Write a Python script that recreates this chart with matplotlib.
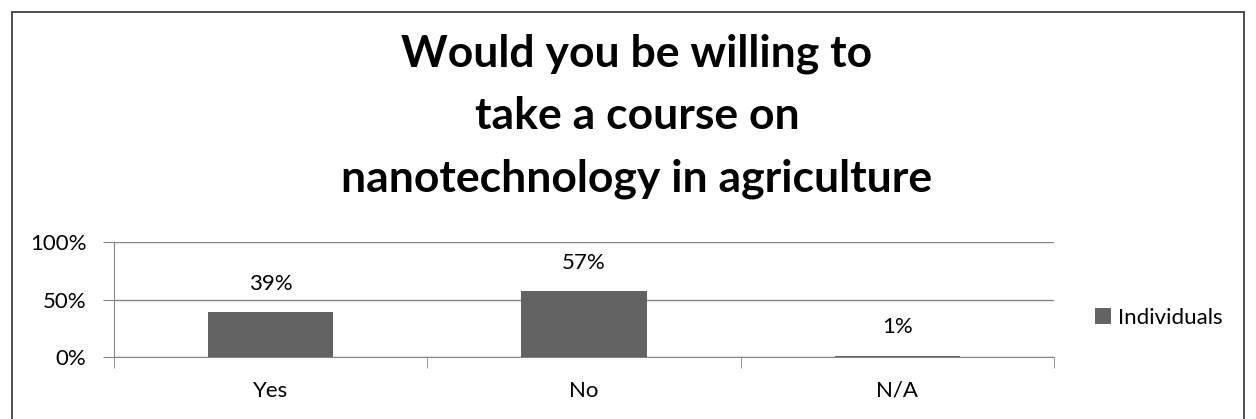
import numpy as np
import matplotlib
matplotlib.use("Agg")
import matplotlib.pyplot as plt
from matplotlib.patches import Rectangle

categorias = ["Yes", "No", "N/A"]
valores = [0.39, 0.57, 0.01]
etiquetas = ["39%", "57%", "1%"]
ticks_y = [0, 0.5, 1.0]
ticks_y_txt = ["0%", "50%", "100%"]
titulo = "Would you be willing to\ntake a course on\nnanotechnology in agriculture"

plt.rcParams['font.family'] = ['Lato', 'DejaVu Sans']

W, H = 1256, 419
fig = plt.figure(figsize=(W / 100, H / 100), dpi=100)

# marco exterior
fig.patches.append(Rectangle((12 / W, -0.01), (1244 - 12) / W, (H - 12) / H + 0.01,
                             transform=fig.transFigure, fill=False,
                             edgecolor="#404040", linewidth=1.3))

ax = fig.add_axes([114 / W, (H - 357) / H, (1054 - 114) / W, (357 - 242) / H])
x = np.arange(len(categorias))
ax.bar(x, valores, width=0.4, color="#636363", zorder=3, label="Individuals")
ax.set_xlim(-0.5, len(categorias) - 0.5)
ax.set_ylim(0, 1)

for xi, v, t in zip(x, valores, etiquetas):
    ax.text(xi, v + 0.16, t, ha="center", va="bottom", fontsize=16)

ax.set_yticks(ticks_y)
ax.set_yticklabels(ticks_y_txt, fontsize=16)
ax.set_xticks(x)
ax.set_xticklabels(categorias, fontsize=16)
ax.tick_params(axis="x", length=0, pad=17)
ax.tick_params(axis="y", length=8, color="#868686", pad=12)
# marcas de categoria
ax.set_xticks(np.arange(len(categorias) + 1) - 0.5, minor=True)
ax.tick_params(axis="x", which="minor", length=8, color="#868686")

ax.grid(axis="y", color="#868686", linewidth=1, zorder=0)
for s in ["top", "right"]:
    ax.spines[s].set_visible(False)
for s in ["left", "bottom"]:
    ax.spines[s].set_color("#868686")

fig.legend(loc="center left", bbox_to_anchor=(1075 / W, (H - 318) / H),
           frameon=False, fontsize=16, handlelength=0.7, handleheight=0.7,
           handletextpad=0.35)

fig.text(637 / W, (H - 116) / H, titulo, ha="center", va="center",
         fontsize=32, fontweight="bold", linespacing=1.68)

fig.savefig("out.png", dpi=100)
